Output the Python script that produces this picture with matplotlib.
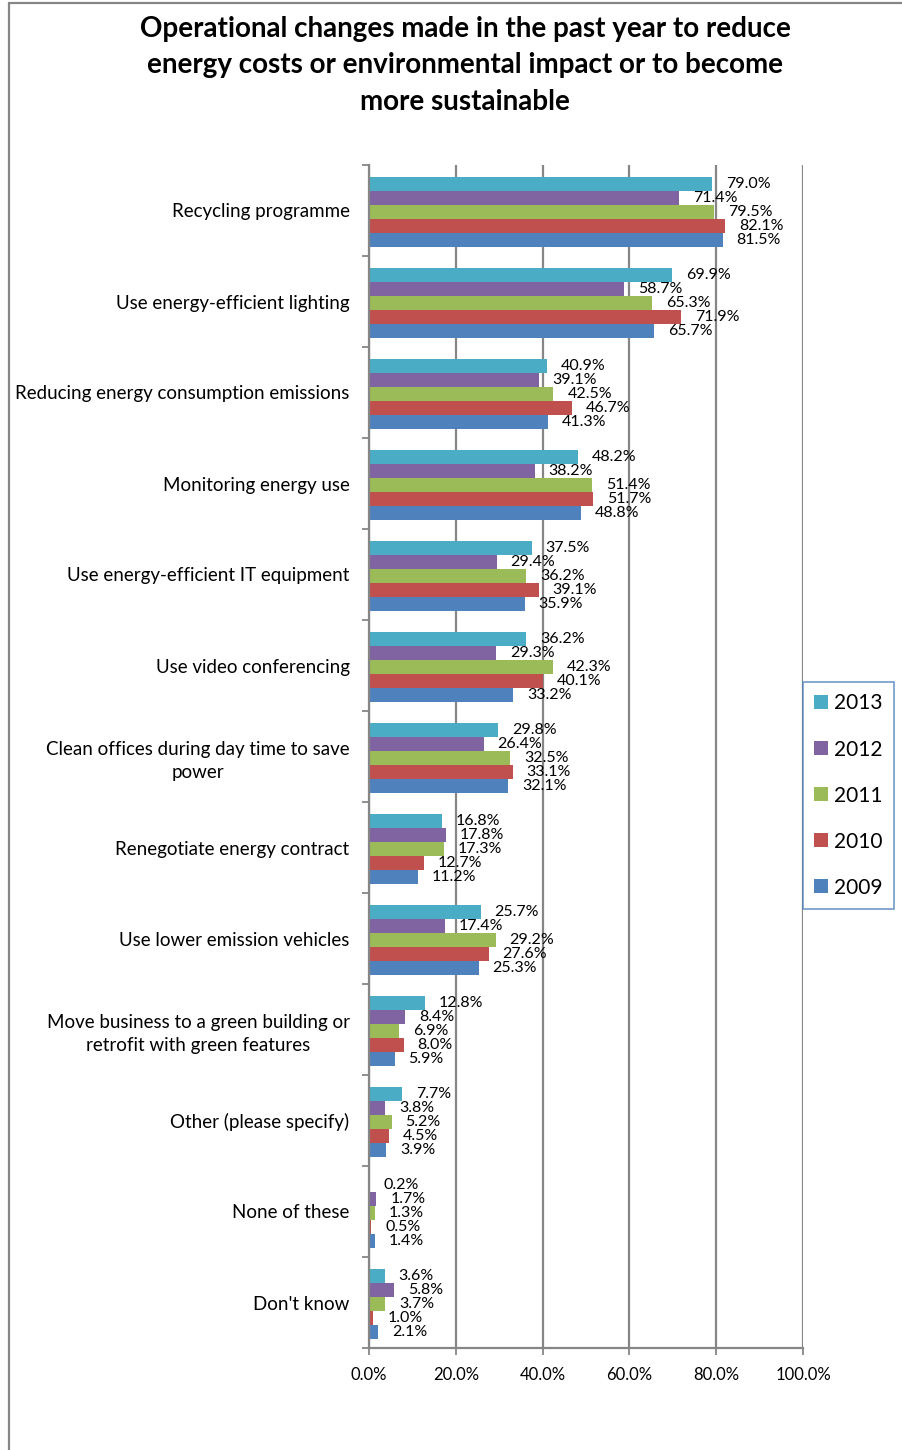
import matplotlib
matplotlib.use("Agg")
import matplotlib.pyplot as plt
import numpy as np
from matplotlib.patches import Rectangle

plt.rcParams['font.family'] = ['Lato', 'DejaVu Sans']

categories = [
    "Recycling programme",
    "Use energy-efficient lighting",
    "Reducing energy consumption emissions",
    "Monitoring energy use",
    "Use energy-efficient IT equipment",
    "Use video conferencing",
    "Clean offices during day time to save\npower",
    "Renegotiate energy contract",
    "Use lower emission vehicles",
    "Move business to a green building or\nretrofit with green features",
    "Other (please specify)",
    "None of these",
    "Don't know",
]
years = ["2013", "2012", "2011", "2010", "2009"]
v2013 = [79.0, 69.9, 40.9, 48.2, 37.5, 36.2, 29.8, 16.8, 25.7, 12.8, 7.7, 0.2, 3.6]
v2012 = [71.4, 58.7, 39.1, 38.2, 29.4, 29.3, 26.4, 17.8, 17.4, 8.4, 3.8, 1.7, 5.8]
v2011 = [79.5, 65.3, 42.5, 51.4, 36.2, 42.3, 32.5, 17.3, 29.2, 6.9, 5.2, 1.3, 3.7]
v2010 = [82.1, 71.9, 46.7, 51.7, 39.1, 40.1, 33.1, 12.7, 27.6, 8.0, 4.5, 0.5, 1.0]
v2009 = [81.5, 65.7, 41.3, 48.8, 35.9, 33.2, 32.1, 11.2, 25.3, 5.9, 3.9, 1.4, 2.1]
series = [v2013, v2012, v2011, v2010, v2009]
colors = ["#4BACC6", "#8064A2", "#9BBB59", "#C0504D", "#4F81BD"]
title = ("Operational changes made in the past year to reduce\n"
         "energy costs or environmental impact or to become\n"
         "more sustainable")

W, H = 902, 1450
fig = plt.figure(figsize=(W / 100, H / 100), dpi=100)
ax = fig.add_axes([369 / W, 1 - 1348 / H, (803 - 369) / W, (1348 - 165) / H])

n = len(categories)
y = np.arange(n)
bh = 0.154
for j, (vals, col, yr) in enumerate(zip(series, colors, years)):
    pos = y + (j - 2) * bh + 0.015
    ax.barh(pos, vals, height=bh, color=col, label=yr, zorder=2)
    for p, v in zip(pos, vals):
        ax.annotate(f"{v:.1f}%", xy=(v, p), xytext=(10, 0), textcoords="offset points",
                    ha="left", va="center", fontsize=11.5, color="black", zorder=3)

ax.set_xlim(0, 100)
ax.set_ylim(n - 0.5, -0.5)
ax.set_xticks(np.arange(0, 101, 20))
ax.set_xticklabels([f"{t:.1f}%" for t in np.arange(0, 101, 20)], fontsize=12)
ax.set_yticks(np.arange(n + 1) - 0.5, minor=False)
ax.set_yticklabels([])
ax.set_yticks(y, minor=True)
ax.set_yticklabels(categories, minor=True, fontsize=13.5, ha="right")
for lbl in ax.get_yticklabels(minor=True):
    lbl.set_multialignment("center")
    lbl.set_linespacing(1.45)
ax.tick_params(axis="y", which="minor", length=0, pad=14)
ax.tick_params(axis="y", which="major", length=5, width=1.3, color="#868686", direction="out")
ax.tick_params(axis="x", which="major", length=5, width=1.3, color="#868686", direction="out", pad=9)

ax.grid(axis="x", color="#868686", linewidth=1.6, zorder=0)
ax.set_axisbelow(True)
for s in ["top", "right"]:
    ax.spines[s].set_visible(False)
for s in ["left", "bottom"]:
    ax.spines[s].set_color("#868686")
    ax.spines[s].set_linewidth(1.6)

fig.text(465 / W, 1 - 65 / H, title, ha="center", va="center", fontsize=20,
         fontweight="bold", linespacing=1.5)

handles, labels = ax.get_legend_handles_labels()
leg = fig.legend(handles, labels, loc="upper left",
                 bbox_to_anchor=(803 / W, 1 - 682 / H), fontsize=15,
                 frameon=True, fancybox=False, handlelength=0.65, handleheight=0.65,
                 handletextpad=0.3, labelspacing=1.25, borderpad=0.55, borderaxespad=0)
leg.get_frame().set_edgecolor("#4F81BD")
leg.get_frame().set_linewidth(1.2)

border = Rectangle((8.5 / W, -0.1), 2, 1 - 3.5 / H + 0.1, transform=fig.transFigure,
                   fill=False, edgecolor="#868686", linewidth=1.6)
fig.patches.append(border)

fig.savefig("out.png", dpi=100)
